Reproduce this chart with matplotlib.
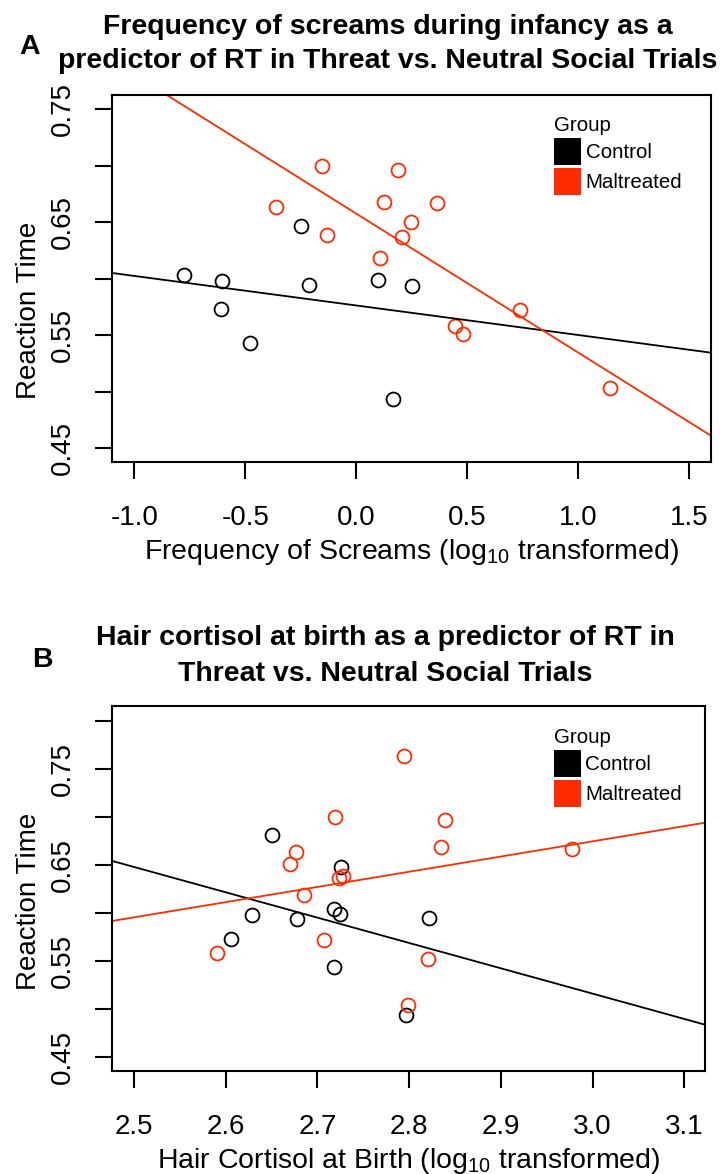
import matplotlib
matplotlib.use("Agg")
import matplotlib.pyplot as plt
from matplotlib.patches import Patch
import numpy as np

plt.rcParams['font.family'] = ['Liberation Sans', 'DejaVu Sans']
plt.rcParams['mathtext.fontset'] = 'custom'
plt.rcParams['mathtext.rm'] = 'Liberation Sans'
plt.rcParams['mathtext.it'] = 'Liberation Sans:italic'

# ---------------- Panel A data ----------------
a_ctrl_x = [-0.778, -0.603, -0.609, -0.479, -0.249, -0.214, 0.098, 0.249, 0.167]
a_ctrl_y = [0.6035, 0.5976, 0.5732, 0.5432, 0.6465, 0.5947, 0.5991, 0.5935, 0.4938]
a_mal_x = [-0.363, -0.153, -0.132, 0.109, 0.125, 0.190, 0.208, 0.247, 0.365,
           0.443, 0.482, 0.738, 1.144]
a_mal_y = [0.6635, 0.6994, 0.6385, 0.6182, 0.6680, 0.6959, 0.6371, 0.6503, 0.6665,
           0.5580, 0.5515, 0.5720, 0.5030]
# fitted lines: (intercept, slope)
a_ctrl_fit = (0.5763, -0.0261)
a_mal_fit = (0.6575, -0.1228)

# ---------------- Panel B data ----------------
b_ctrl_x = [2.651, 2.629, 2.606, 2.678, 2.718, 2.725, 2.726, 2.718, 2.822, 2.797]
b_ctrl_y = [0.6813, 0.5976, 0.5733, 0.5934, 0.6038, 0.5993, 0.6476, 0.5434, 0.5944, 0.4934]
b_mal_x = [2.794, 2.719, 2.839, 2.835, 2.978, 2.677, 2.670, 2.723, 2.728, 2.685,
           2.707, 2.591, 2.821, 2.799]
b_mal_y = [0.7635, 0.6993, 0.6962, 0.6681, 0.6663, 0.6635, 0.6507, 0.6365, 0.6385, 0.6188,
           0.5722, 0.5583, 0.5521, 0.5038]
b_ctrl_fit = (1.3065, -0.2635)
b_mal_fit = (0.2001, 0.1581)

a_xticks = [-1.0, -0.5, 0.0, 0.5, 1.0, 1.5]
a_xticklabels = ['-1.0', '-0.5', '0.0', '0.5', '1.0', '1.5']
a_yticks = [0.45, 0.50, 0.55, 0.60, 0.65, 0.70, 0.75]
a_yticklabels = ['0.45', '', '0.55', '', '0.65', '', '0.75']
b_xticks = [2.5, 2.6, 2.7, 2.8, 2.9, 3.0, 3.1]
b_xticklabels = ['2.5', '2.6', '2.7', '2.8', '2.9', '3.0', '3.1']
b_yticks = [0.45, 0.50, 0.55, 0.60, 0.65, 0.70, 0.75, 0.80]
b_yticklabels = ['0.45', '', '0.55', '', '0.65', '', '0.75', '']

groups = ['Control', 'Maltreated']
colors = ['#000000', '#FF2A00']

W, H = 723, 1174
fig = plt.figure(figsize=(W / 100, H / 100), dpi=100)


def px_axes(l, t, r, b):
    return fig.add_axes([l / W, 1 - b / H, (r - l) / W, (b - t) / H])


def style(ax, xticks, xtl, yticks, ytl, xlim, ylim, xlabel, ylab_y, leg_anchor):
    ax.set_xlim(*xlim)
    ax.set_ylim(*ylim)
    ax.set_xticks(xticks)
    ax.set_xticklabels(xtl)
    ax.set_yticks(yticks)
    ax.set_yticklabels(ytl, rotation=90, va='center')
    for s in ax.spines.values():
        s.set_linewidth(1.5)
    ax.tick_params(axis='both', length=12.5, width=1.5, labelsize=20)
    ax.tick_params(axis='x', pad=18.5)
    ax.tick_params(axis='y', pad=13.5)
    ax.set_xlabel(xlabel, fontsize=20.5, labelpad=4)
    ax.set_ylabel('Reaction Time', fontsize=20, labelpad=5.5, y=ylab_y,
                  ha='center')
    handles = [Patch(facecolor=c, edgecolor='none') for c in colors]
    ax.legend(handles, groups, title='Group', loc='upper left',
              bbox_to_anchor=leg_anchor, frameon=False, fontsize=14.8,
              title_fontsize=14.8, handlelength=1.313, handleheight=1.643,
              handletextpad=0.22, labelspacing=0.146, borderpad=0,
              borderaxespad=0, alignment='left')


def draw(ax, cx, cy, mx, my, cfit, mfit):
    ax.plot(cx, cy, linestyle='none', marker='o', markersize=10,
            markerfacecolor='none', markeredgecolor=colors[0], markeredgewidth=1.3)
    ax.plot(mx, my, linestyle='none', marker='o', markersize=10,
            markerfacecolor='none', markeredgecolor=colors[1], markeredgewidth=1.3)
    ax.axline((0, cfit[0]), slope=cfit[1], color=colors[0], linewidth=1.3)
    ax.axline((0, mfit[0]), slope=mfit[1], color=colors[1], linewidth=1.3)


axA = px_axes(112, 95, 711, 462)
draw(axA, a_ctrl_x, a_ctrl_y, a_mal_x, a_mal_y, a_ctrl_fit, a_mal_fit)
style(axA, a_xticks, a_xticklabels, a_yticks, a_yticklabels,
      (-1.101, 1.599), (0.4379, 0.7624),
      'Frequency of Screams (log$_{10}$ transformed)', 0.414, (0.738, 0.943))

axB = px_axes(112, 706, 705, 1071)
draw(axB, b_ctrl_x, b_ctrl_y, b_mal_x, b_mal_y, b_ctrl_fit, b_mal_fit)
style(axB, b_xticks, b_xticklabels, b_yticks, b_yticklabels,
      (2.476, 3.1226), (0.4355, 0.8152),
      'Hair Cortisol at Birth (log$_{10}$ transformed)', 0.465, (0.745, 0.940))

tkw = dict(ha='center', va='center', fontsize=20.5, fontweight='bold')
fig.text(388 / W, 1 - 27 / H, 'Frequency of screams during infancy as a', **tkw)
fig.text(388 / W, 1 - 61 / H, 'predictor of RT in Threat vs. Neutral Social Trials', **tkw)
fig.text(30 / W, 1 - 47 / H, 'A', **tkw)
fig.text(385 / W, 1 - 638 / H, 'Hair cortisol at birth as a predictor of RT in', **tkw)
fig.text(385 / W, 1 - 674 / H, 'Threat vs. Neutral Social Trials', **tkw)
fig.text(42 / W, 1 - 660 / H, 'B', **tkw)

fig.savefig('out.png', dpi=100)
